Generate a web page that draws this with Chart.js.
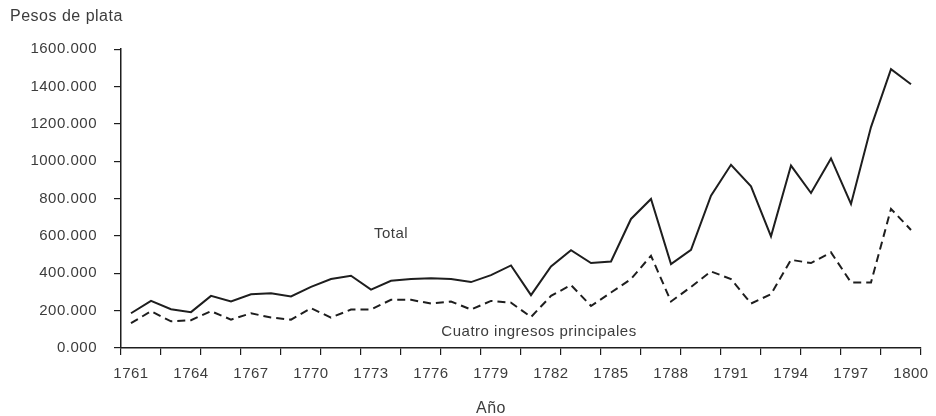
<!DOCTYPE html>
<html>
<head>
<meta charset="utf-8">
<script src="https://cdn.jsdelivr.net/npm/chart.js@4"></script>
<style>
  html, body { margin: 0; padding: 0; background: #fff; }
  #wrap { width: 936px; height: 416px; position: relative; }
</style>
</head>
<body>
<div id="wrap"><canvas id="c"></canvas></div>
<script>
// ---- data ----
const years = [1761,1762,1763,1764,1765,1766,1767,1768,1769,1770,
               1771,1772,1773,1774,1775,1776,1777,1778,1779,1780,
               1781,1782,1783,1784,1785,1786,1787,1788,1789,1790,
               1791,1792,1793,1794,1795,1796,1797,1798,1799,1800];
const totalValues = [186,252,208,192,279,249,288,293,276,327,
                     369,387,313,360,369,374,369,353,390,442,
                     283,437,524,455,463,691,798,449,526,816,
                     981,866,598,977,830,1015,771,1183,1493,1412];
const cuatroValues = [133,197,143,149,197,152,186,163,152,213,
                      163,206,206,258,258,238,249,206,252,243,
                      166,279,337,225,297,369,494,249,327,410,
                      369,238,288,472,455,512,351,351,745,632];
const yTickLabels = ['0.000','200.000','400.000','600.000','800.000',
                     '1000.000','1200.000','1400.000','1600.000'];
const xLabelYears = [1761,1764,1767,1770,1773,1776,1779,1782,1785,1788,1791,1794,1797,1800];
const seriesNames = ['Total','Cuatro ingresos principales'];
const yTitle = 'Pesos de plata';
const xTitle = 'Año';

// text annotations anchored in data units
const notes = [
  { text: 'Total', year: 1774, value: 610 },
  { text: 'Cuatro ingresos principales', year: 1781.4, value: 88 }
];

const FONT = "'Liberation Sans', Arial, Helvetica, sans-serif";
const TXT = '#3c3c3c';
const INK = '#1e1e1e';
const SPACING = '0.5px';

const spacingPlugin = {
  id: 'spacing',
  beforeLayout(chart) { chart.ctx.letterSpacing = SPACING; },
  beforeDraw(chart) { chart.ctx.letterSpacing = SPACING; }
};

const notePlugin = {
  id: 'notes',
  afterDraw(chart) {
    const ctx = chart.ctx;
    const xs = chart.scales.x, ys = chart.scales.y;
    const step = xs.getPixelForValue(1) - xs.getPixelForValue(0);
    const yearPx = y => xs.getPixelForValue(0) + (y - years[0]) * step;
    ctx.save();
    ctx.letterSpacing = SPACING;
    ctx.fillStyle = TXT;
    ctx.font = "15px " + FONT;
    ctx.textAlign = 'center';
    ctx.textBaseline = 'middle';
    notes.forEach(n => ctx.fillText(n.text, yearPx(n.year), ys.getPixelForValue(n.value)));
    // x-axis title under the axis, centred on 1779
    ctx.font = "16px " + FONT;
    ctx.fillText(xTitle, yearPx(1779), chart.height - 7);
    ctx.restore();
  }
};

new Chart(document.getElementById('c'), {
  type: 'line',
  data: {
    labels: years.map(String),
    datasets: [
      { label: seriesNames[0], data: totalValues, borderColor: INK, borderWidth: 2,
        pointRadius: 0, tension: 0, fill: false },
      { label: seriesNames[1], data: cuatroValues, borderColor: INK, borderWidth: 2,
        borderDash: [8, 5], pointRadius: 0, tension: 0, fill: false }
    ]
  },
  plugins: [spacingPlugin, notePlugin],
  options: {
    responsive: true,
    maintainAspectRatio: false,
    animation: false,
    layout: { padding: { left: 10, right: 15, top: 0, bottom: 0 } },
    plugins: {
      legend: { display: false },
      tooltip: { enabled: false },
      title: {
        display: true, text: yTitle, align: 'start', color: TXT,
        font: { family: FONT, size: 16, weight: 'normal' },
        padding: { top: 7, bottom: 23 }
      }
    },
    scales: {
      x: {
        type: 'category',
        offset: true,
        afterFit: s => { s.height = 68; s.paddingLeft = 0; s.paddingRight = 0; },
        border: { display: true, color: INK, width: 1.5 },
        grid: {
          offset: true, drawOnChartArea: false, drawTicks: true, tickLength: 7,
          lineWidth: 1.2,
          color: c => (c.index === undefined || c.index % 2 === 0) ? INK : 'rgba(0,0,0,0)'
        },
        ticks: {
          autoSkip: false, maxRotation: 0, padding: 10, color: TXT,
          font: { family: FONT, size: 15 },
          callback: function (v, i) {
            const yr = years[i];
            return xLabelYears.includes(yr) ? String(yr) : '';
          }
        }
      },
      y: {
        min: 0, max: 1600,
        afterFit: s => { s.width = 111; },
        border: { display: true, color: INK, width: 1.5 },
        grid: { drawOnChartArea: false, drawTicks: true, tickLength: 7, color: INK, lineWidth: 1.2 },
        ticks: {
          stepSize: 200, padding: 17, color: TXT,
          font: { family: FONT, size: 15 },
          callback: v => yTickLabels[Math.round(v / 200)]
        }
      }
    }
  }
});
</script>
</body>
</html>
